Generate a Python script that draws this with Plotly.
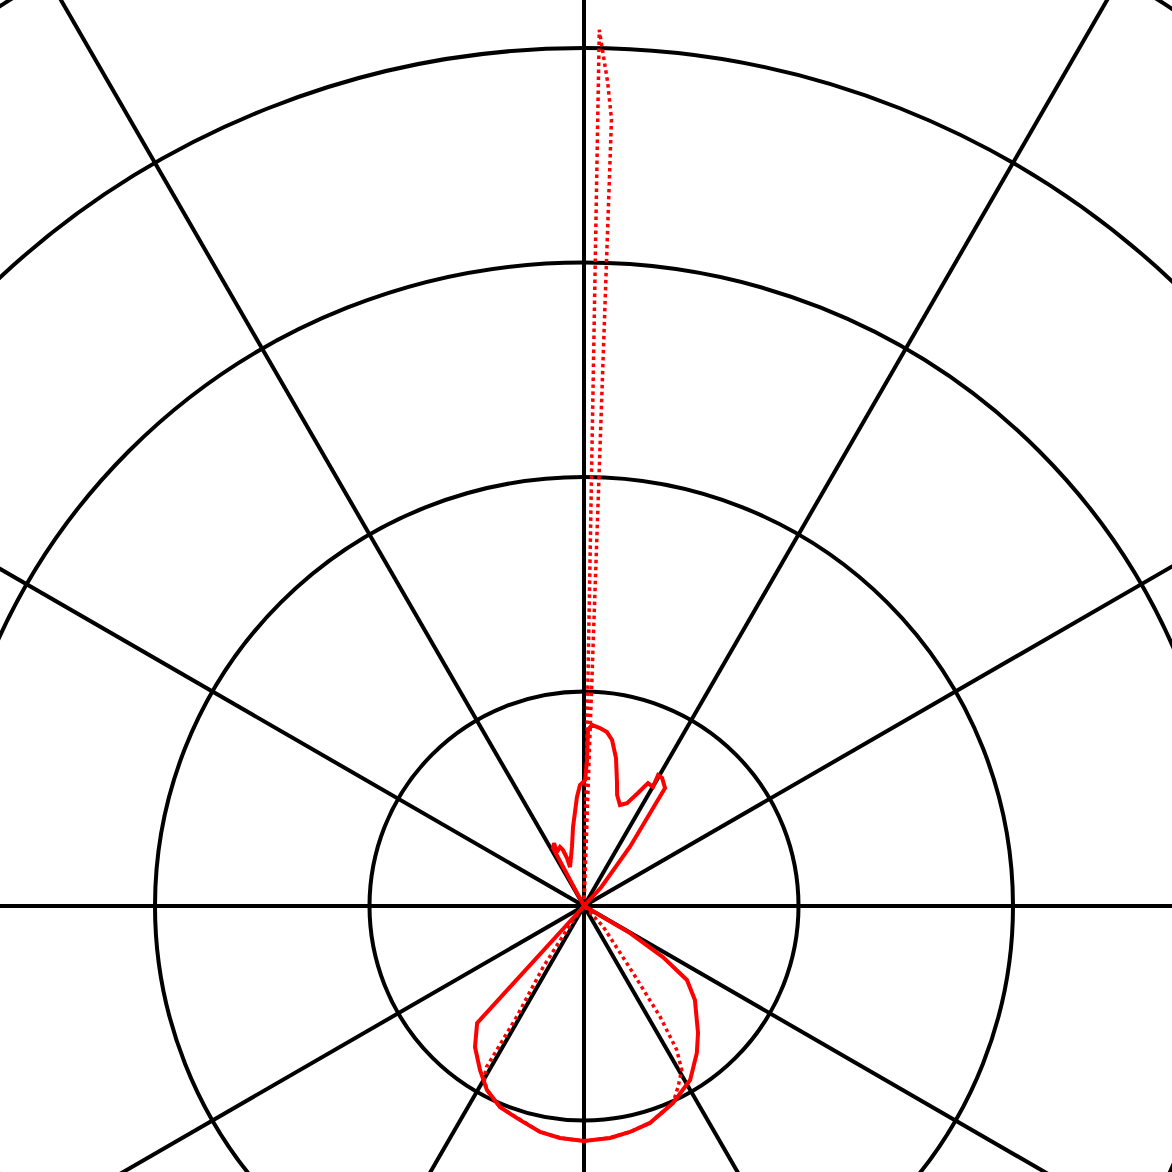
import numpy as np
import plotly.graph_objects as go

# ---- data (polar: theta in degrees, counter-clockwise from +x; r in grid units) ----
solid_theta = [0, 45, 47.5, 52.2, 55.5, 58.6, 60.5, 59.9, 62.5, 64.5, 67.3, 70.4, 73.4, 75.1,
               77.8, 80.4, 82.5, 84.9, 87.5, 88.7, 88.8, 89.5, 91.9, 93.7, 95.4, 97.9, 101.5,
               109.7, 109.5, 110.6, 112.1, 116.6, 115.5, 118.1, 120, 225, 227.6, 232.3, 237.6,
               242.2, 247.3, 253.3, 259.0, 264.1, 270, 276.4, 281.5, 286.9, 294.3, 301.4, 307.5,
               311.9, 319.7, 324.3, 327.1, 329.6, 333, 360]
solid_r = [0, 0, 0.12, 0.35, 0.667, 0.699, 0.701, 0.641, 0.646, 0.584, 0.520, 0.500, 0.540, 0.598,
           0.706, 0.785, 0.818, 0.833, 0.845, 0.821, 0.681, 0.587, 0.564, 0.509, 0.450, 0.372, 0.281,
           0.193, 0.237, 0.279, 0.297, 0.281, 0.325, 0.307, 0, 0, 0.739, 0.831, 0.905,
           0.970, 1.016, 1.041, 1.073, 1.087, 1.096, 1.088, 1.075, 1.057, 1.008, 0.950, 0.864,
           0.796, 0.678, 0.591, 0.438, 0.249, 0, 0]

dotted_theta = [0, 87, 88, 88.35, 89, 90, 230, 233, 236.2, 238.7, 238.8, 238.8, 239.8, 242.2,
                247.3, 253.3, 259.0, 264.1, 270, 276.4, 281.5, 286.9, 294.3, 297.5, 300.8,
                302.8, 304.5, 306.2, 313, 316, 360]
dotted_r = [0, 0, 3.67, 3.84, 4.085, 0, 0, 0.1, 0.341, 0.604, 0.785, 0.876, 0.927, 0.970,
            1.016, 1.041, 1.073, 1.087, 1.096, 1.088, 1.075, 1.057, 1.008, 0.95, 0.89,
            0.798, 0.626, 0.389, 0.13, 0, 0]

grid_radii = [1, 2, 3, 4, 5, 6]
spoke_angles = list(range(0, 360, 30))


def to_xy(theta_deg, r):
    t = np.radians(np.asarray(theta_deg, dtype=float))
    r = np.asarray(r, dtype=float)
    return r * np.cos(t), r * np.sin(t)


fig = go.Figure()

shapes = []
for rad in grid_radii:
    shapes.append(dict(type="circle", xref="x", yref="y", x0=-rad, y0=-rad, x1=rad, y1=rad,
                       line=dict(color="black", width=4), layer="below"))
for a in spoke_angles:
    ex, ey = to_xy([a], [8])
    shapes.append(dict(type="line", xref="x", yref="y", x0=0, y0=0, x1=float(ex[0]), y1=float(ey[0]),
                       line=dict(color="black", width=4), layer="below"))

dx, dy = to_xy(dotted_theta, dotted_r)
fig.add_trace(go.Scatter(x=dx, y=dy, mode="lines", line=dict(color="#ff0000", width=3.5, dash="dot"),
                         hoverinfo="skip", showlegend=False))
sx, sy = to_xy(solid_theta, solid_r)
fig.add_trace(go.Scatter(x=sx, y=sy, mode="lines", line=dict(color="#ff0000", width=4),
                         hoverinfo="skip", showlegend=False))

S = 214.5
fig.update_layout(
    width=1172, height=1172,
    margin=dict(l=0, r=0, t=0, b=0),
    paper_bgcolor="white", plot_bgcolor="white",
    shapes=shapes,
    xaxis=dict(range=[-584 / S, 588 / S], visible=False, fixedrange=True),
    yaxis=dict(range=[-266 / S, 906 / S], visible=False, fixedrange=True),
    showlegend=False,
)

fig.write_html(
    "out.html",
    config={"displayModeBar": False},
    post_script="document.body.style.margin='0';document.body.style.overflow='hidden';",
)
